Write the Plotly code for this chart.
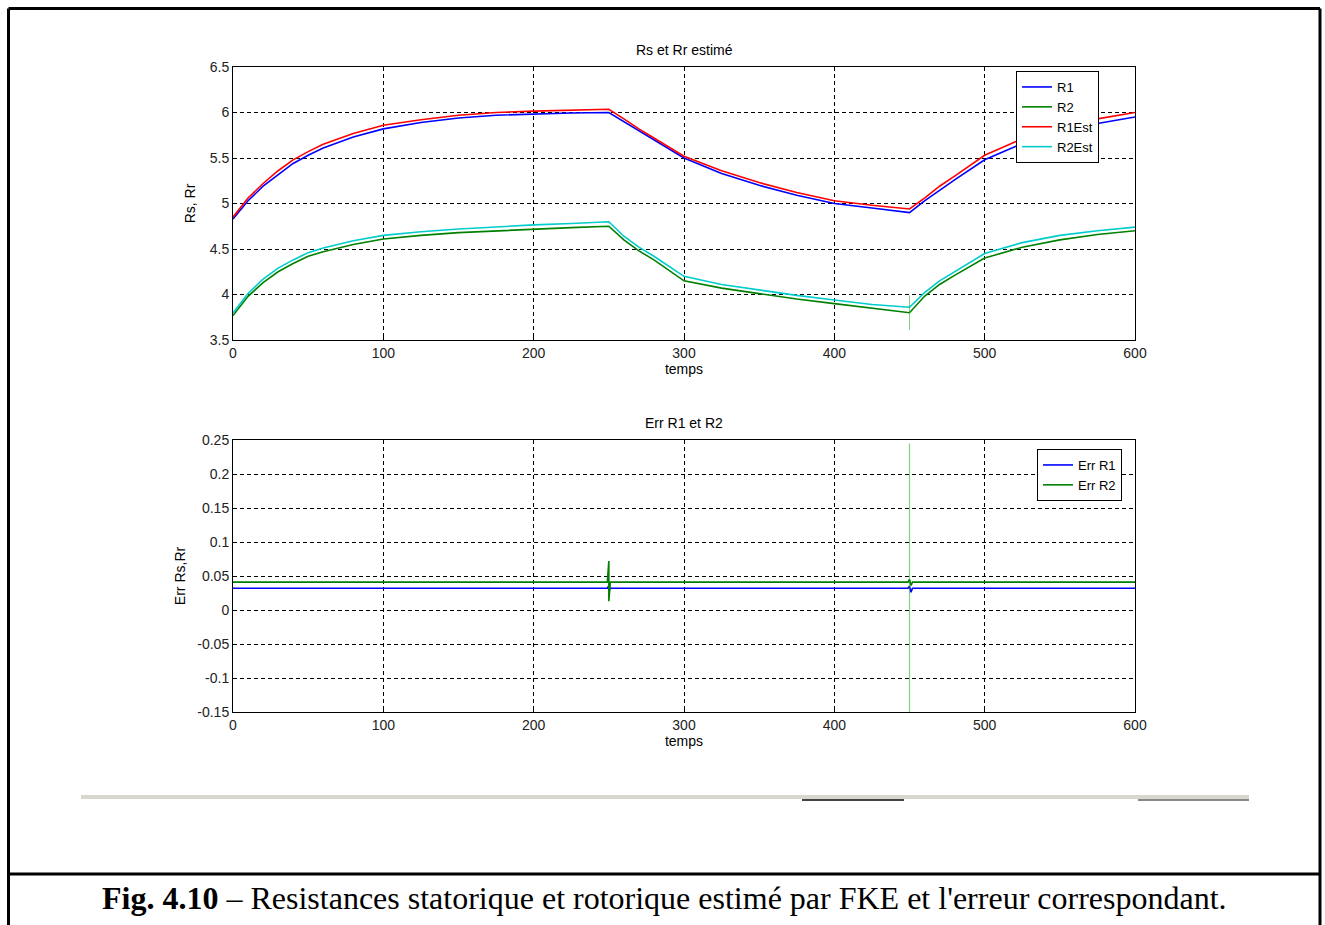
import plotly.graph_objects as go

# Time samples (s) for the resistance traces
t = [0, 10, 20, 30, 40, 50, 60, 80, 100, 125, 150, 175, 200, 225, 250,
     260, 270, 280, 300, 325, 350, 375, 400, 425, 450,
     460, 470, 480, 500, 525, 550, 575, 600]

# Stator resistance (true / estimated)
r1 = [4.83, 5.03, 5.19, 5.32, 5.44, 5.53, 5.61, 5.73, 5.82, 5.89, 5.94, 5.97, 5.985, 5.995, 6.0,
      5.9, 5.8, 5.7, 5.5, 5.33, 5.2, 5.09, 5.0, 4.95, 4.9,
      5.03, 5.15, 5.26, 5.48, 5.66, 5.79, 5.88, 5.95]
r1_est = [4.85, 5.06, 5.22, 5.36, 5.48, 5.57, 5.65, 5.77, 5.86, 5.92, 5.97, 6.0, 6.015, 6.025, 6.035,
          5.93, 5.82, 5.72, 5.52, 5.36, 5.23, 5.12, 5.03, 4.98, 4.94,
          5.06, 5.19, 5.30, 5.53, 5.71, 5.84, 5.93, 6.0]

# Rotor resistance (true / estimated)
r2 = [3.77, 3.98, 4.13, 4.25, 4.34, 4.42, 4.47, 4.55, 4.61, 4.65, 4.68, 4.70, 4.72, 4.735, 4.75,
      4.6, 4.48, 4.38, 4.15, 4.07, 4.01, 3.95, 3.9, 3.85, 3.8,
      3.98, 4.11, 4.21, 4.40, 4.52, 4.60, 4.66, 4.70]
r2_est = [3.80, 4.01, 4.17, 4.29, 4.38, 4.46, 4.51, 4.59, 4.65, 4.69, 4.72, 4.745, 4.765, 4.78, 4.80,
          4.64, 4.52, 4.42, 4.20, 4.11, 4.05, 3.99, 3.94, 3.89, 3.86,
          4.02, 4.15, 4.25, 4.45, 4.57, 4.65, 4.70, 4.74]
r2_spike_t = [450, 450]
r2_spike = [3.99, 3.61]

# Estimation errors
err_t = [0, 249, 250, 250, 251, 449, 450, 451, 452, 600]
err_r1 = [0.032, 0.032, 0.036, 0.028, 0.032, 0.032, 0.035, 0.026, 0.032, 0.032]
err_r2 = [0.041, 0.041, 0.072, 0.013, 0.041, 0.041, 0.045, 0.036, 0.041, 0.041]
err_spike_t = [450, 450]
err_spike = [0.245, -0.15]

# Axis ticks
x_ticks = [0, 100, 200, 300, 400, 500, 600]
top_ticks = [3.5, 4, 4.5, 5, 5.5, 6, 6.5]
bot_ticks = [-0.15, -0.1, -0.05, 0, 0.05, 0.1, 0.15, 0.2, 0.25]
bot_labels = ["-0.15", "-0.1", "-0.05", "0", "0.05", "0.1", "0.15", "0.2", "0.25"]

W, H = 1325, 925
BLUE, GREEN, RED, CYAN = "#0000ff", "#008000", "#ff0000", "#00cccc"
FONT = "Liberation Sans, Arial, sans-serif"
FS = 14


def px(x):
    return x / W


def py(y):
    return 1 - y / H


fig = go.Figure()
lw = 1.6
fig.add_trace(go.Scatter(x=t, y=r1, name="R1", mode="lines", line=dict(color=BLUE, width=lw), legend="legend"))
fig.add_trace(go.Scatter(x=t, y=r2, name="R2", mode="lines", line=dict(color=GREEN, width=lw), legend="legend"))
fig.add_trace(go.Scatter(x=t, y=r1_est, name="R1Est", mode="lines", line=dict(color=RED, width=lw), legend="legend"))
fig.add_trace(go.Scatter(x=t, y=r2_est, name="R2Est", mode="lines", line=dict(color=CYAN, width=lw), legend="legend"))
fig.add_trace(go.Scatter(x=r2_spike_t, y=r2_spike, mode="lines", showlegend=False,
                         line=dict(color="rgba(0,170,0,0.5)", width=1)))

fig.add_trace(go.Scatter(x=err_t, y=err_r1, name="Err R1", mode="lines", line=dict(color=BLUE, width=lw),
                         xaxis="x2", yaxis="y2", legend="legend2"))
fig.add_trace(go.Scatter(x=err_t, y=err_r2, name="Err R2", mode="lines", line=dict(color=GREEN, width=lw),
                         xaxis="x2", yaxis="y2", legend="legend2"))
fig.add_trace(go.Scatter(x=err_spike_t, y=err_spike, mode="lines", showlegend=False,
                         line=dict(color="rgba(0,170,0,0.5)", width=1.2),
                         xaxis="x2", yaxis="y2"))

axis_common = dict(
    showline=True, linecolor="black", linewidth=1, mirror=True,
    showgrid=True, gridcolor="black", gridwidth=1, griddash="4px,3px",
    zeroline=False, ticks="inside", ticklen=4, tickcolor="black", automargin=False,
    tickfont=dict(family=FONT, size=FS, color="#222"),
)

fig.update_layout(
    width=W, height=H,
    margin=dict(l=0, r=0, t=0, b=0, pad=0, autoexpand=False),
    paper_bgcolor="white", plot_bgcolor="white",
    font=dict(family=FONT, size=FS, color="black"),
    xaxis=dict(domain=[px(233), px(1135)], range=[0, 600], tickvals=x_ticks, anchor="y",
               title=dict(text="temps", standoff=4, font=dict(size=FS)), **axis_common),
    yaxis=dict(domain=[py(340), py(67)], range=[3.5, 6.5], tickvals=top_ticks, anchor="x",
               title=dict(text="Rs, Rr", standoff=10, font=dict(size=FS)), **axis_common),
    xaxis2=dict(domain=[px(233), px(1135)], range=[0, 600], tickvals=x_ticks, anchor="y2",
                title=dict(text="temps", standoff=4, font=dict(size=FS)), **axis_common),
    yaxis2=dict(domain=[py(712), py(440)], range=[-0.15, 0.25], tickvals=bot_ticks, ticktext=bot_labels,
                anchor="x2", title=dict(text="Err Rs,Rr", standoff=8, font=dict(size=FS)), **axis_common),
    legend=dict(x=px(1016), y=py(71), xanchor="left", yanchor="top",
                bgcolor="white", bordercolor="black", borderwidth=1,
                font=dict(family=FONT, size=13), tracegroupgap=0),
    legend2=dict(x=px(1037), y=py(449), xanchor="left", yanchor="top",
                 bgcolor="white", bordercolor="black", borderwidth=1,
                 font=dict(family=FONT, size=13), tracegroupgap=0),
    showlegend=True,
)

# Subplot titles
fig.add_annotation(x=px(684), y=py(50), xref="paper", yref="paper", text="Rs et Rr estimé",
                   xanchor="center", yanchor="middle", showarrow=False,
                   font=dict(family=FONT, size=FS, color="black"))
fig.add_annotation(x=px(684), y=py(423), xref="paper", yref="paper", text="Err R1 et R2",
                   xanchor="center", yanchor="middle", showarrow=False,
                   font=dict(family=FONT, size=FS, color="black"))

# Figure caption
fig.add_annotation(x=px(664), y=py(898), xref="paper", yref="paper",
                   text="<b>Fig. 4.10</b> – Resistances statorique et rotorique estimé par FKE et l'erreur correspondant.",
                   xanchor="center", yanchor="middle", showarrow=False,
                   font=dict(family="Liberation Serif, Times New Roman, serif", size=32, color="black"))

# Page frame and caption separator
frame = dict(type="line", xref="paper", yref="paper", line=dict(color="black", width=3))
fig.add_shape(x0=px(8.5), x1=px(1320), y0=py(8.5), y1=py(8.5), **frame)
fig.add_shape(x0=px(8.5), x1=px(8.5), y0=py(8.5), y1=0, **frame)
fig.add_shape(x0=px(1320), x1=px(1320), y0=py(8.5), y1=0, **frame)
fig.add_shape(x0=px(8.5), x1=px(1320), y0=py(874), y1=py(874), **frame)

# Grey toolbar strip under the plots
fig.add_shape(type="rect", xref="paper", yref="paper", x0=px(81), x1=px(1249), y0=py(799), y1=py(795),
              fillcolor="#d9d6cf", line=dict(width=0))
fig.add_shape(type="rect", xref="paper", yref="paper", x0=px(802), x1=px(904), y0=py(801), y1=py(799),
              fillcolor="#444444", line=dict(width=0))
fig.add_shape(type="rect", xref="paper", yref="paper", x0=px(1138), x1=px(1249), y0=py(801), y1=py(799),
              fillcolor="#888888", line=dict(width=0))

fig.write_html("out.html")
